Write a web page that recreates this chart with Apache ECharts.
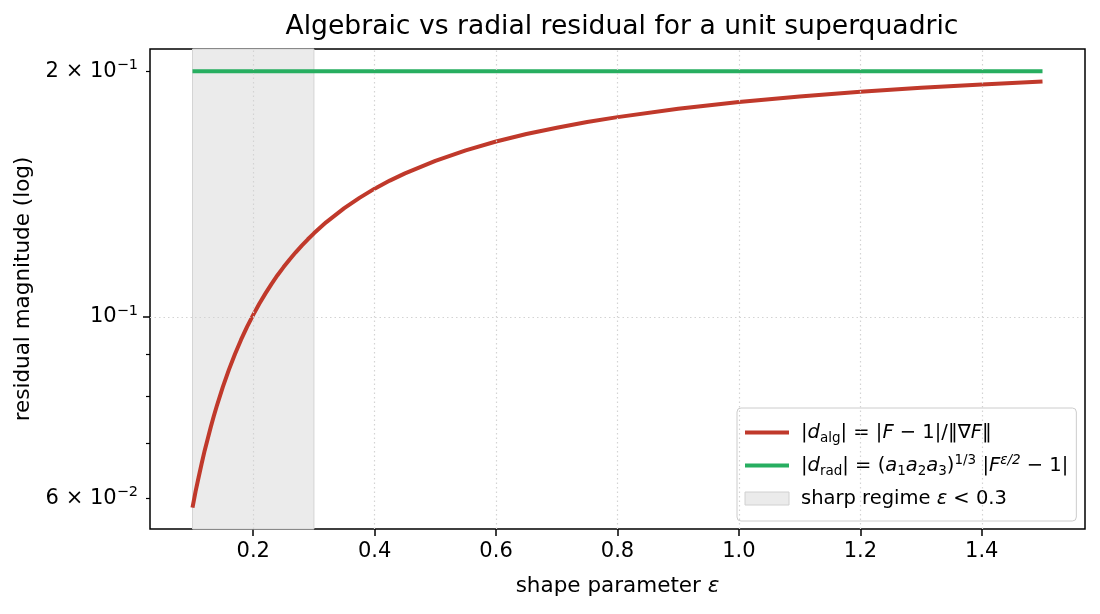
<!DOCTYPE html>
<html><head><meta charset="utf-8">
<script src="https://cdn.jsdelivr.net/npm/echarts@6/dist/echarts.min.js"></script>
<style>html,body{margin:0;padding:0;background:#fff}#c{width:1100px;height:614px}</style>
</head><body><div id="c"></div>
<script>
// ---- data ----
const epsValues = [0.100,0.105,0.110,0.115,0.120,0.125,0.130,0.135,0.140,0.150,0.160,0.170,0.180,0.190,0.200,0.210,0.220,0.230,0.240,0.250,0.260,0.270,0.280,0.290,0.300,0.320,0.350,0.375,0.400,0.425,0.450,0.500,0.550,0.600,0.650,0.700,0.750,0.800,0.900,1.000,1.100,1.200,1.300,1.400,1.500];
const algValues = [0.0584,0.0611,0.0636,0.0661,0.0686,0.0709,0.0733,0.0756,0.0778,0.0821,0.0862,0.0901,0.0938,0.0973,0.1006,0.1038,0.1068,0.1097,0.1125,0.1151,0.1176,0.1200,0.1223,0.1245,0.1266,0.1306,0.1359,0.1399,0.1436,0.1469,0.1499,0.1553,0.1600,0.1640,0.1675,0.1705,0.1733,0.1757,0.1799,0.1833,0.1862,0.1887,0.1908,0.1926,0.1942];
const radValues = [0.2,0.2,0.2,0.2,0.2,0.2,0.2,0.2,0.2,0.2,0.2,0.2,0.2,0.2,0.2,0.2,0.2,0.2,0.2,0.2,0.2,0.2,0.2,0.2,0.2,0.2,0.2,0.2,0.2,0.2,0.2,0.2,0.2,0.2,0.2,0.2,0.2,0.2,0.2,0.2,0.2,0.2,0.2,0.2,0.2];
const sharpRange = [0.1, 0.3];
const xTicks = [0.2,0.4,0.6,0.8,1.0,1.2,1.4];
const xTickLabels = ['0.2','0.4','0.6','0.8','1.0','1.2','1.4'];
const yLabelValues = [0.06, 0.1, 0.2];
const yLabelTexts = ['6 × 10{sup|−2}', '10{sup|−1}', '2 × 10{sup|−1}'];
const yMajorTicks = [0.1];
const yMinorTicks = [0.06, 0.07, 0.08, 0.09, 0.2];
const yGridValues = [0.1];

const NAME_ALG = '|d_alg| = |F − 1|/‖∇F‖';
const NAME_RAD = '|d_rad| = (a1a2a3)^(1/3) |F^(ε/2) − 1|';
const NAME_SHARP = 'sharp regime ε < 0.3';
const legendRich = {};
legendRich[NAME_ALG] = '{g|}|{it|d}{sub|alg}| = |{it|F} − 1|/‖∇{it|F}‖';
legendRich[NAME_RAD] = '{g|}|{it|d}{sub|rad}| = ({it|a}{sub|1}{it|a}{sub|2}{it|a}{sub|3}){sup|1/3} |{it|F}{supi|ε/2} − 1|';
legendRich[NAME_SHARP] = '{g|}sharp regime {it|ε} < 0.3';

const FF = 'DejaVu Sans';
const RED = '#c0392b', GREEN = '#27ae60';
const LF = 19.5;

const chart = echarts.init(document.getElementById('c'), null, {renderer: 'canvas'});
const gridStyle = {color: '#d3d3d3', width: 1.2, type: [1.5, 3]};
const hiddenSym = {color: 'rgba(0,0,0,0)', borderColor: 'rgba(0,0,0,0)', borderWidth: 0, opacity: 0};

chart.setOption({
  animation: false,
  backgroundColor: '#ffffff',
  textStyle: {fontFamily: FF},
  title: {
    text: 'Algebraic vs radial residual for a unit superquadric',
    left: 617, textAlign: 'center', top: 9,
    textStyle: {fontFamily: FF, fontSize: 26.6, fontWeight: 'normal', color: '#000'}
  },
  grid: {left: 150, right: 15, top: 49, bottom: 85, show: true, borderColor: '#000', borderWidth: 1.5, backgroundColor: 'transparent'},
  xAxis: {
    type: 'value', min: 0.03, max: 1.57,
    axisLine: {show: false},
    axisTick: {show: true, customValues: xTicks, length: 7, lineStyle: {color: '#000', width: 1.5}},
    axisLabel: {customValues: xTicks, margin: 12, color: '#000', fontFamily: FF, fontSize: 21,
      formatter: v => { const i = xTicks.findIndex(t => Math.abs(t - v) < 1e-9); return i >= 0 ? xTickLabels[i] : ''; }},
    splitLine: {show: false},
    name: 'shape parameter {it|ε}', nameLocation: 'middle', nameGap: 46,
    nameTextStyle: {fontFamily: FF, fontSize: 21.5, color: '#000',
      rich: {it: {fontStyle: 'italic', fontFamily: FF, fontSize: 21.5, color: '#000'}}}
  },
  yAxis: [{
    type: 'log', logBase: 10, min: 0.055, max: 0.2129,
    axisLine: {show: false},
    axisTick: {show: true, customValues: yMajorTicks, length: 7, lineStyle: {color: '#000', width: 1.5}},
    minorTick: {show: false},
    axisLabel: {customValues: yLabelValues, margin: 12, color: '#000', fontFamily: FF, fontSize: 21, lineHeight: 27,
      formatter: v => { const i = yLabelValues.findIndex(t => Math.abs(t - v) / t < 1e-6); return i >= 0 ? yLabelTexts[i] : ''; },
      rich: {sup: {fontSize: 14.5, lineHeight: 14.5, verticalAlign: 'top', fontFamily: FF, color: '#000'}}},
    splitLine: {show: false},
    name: 'residual magnitude (log)', nameLocation: 'middle', nameGap: 110,
    nameTextStyle: {fontFamily: FF, fontSize: 21.5, color: '#000'}
  }, {
    type: 'log', logBase: 10, min: 0.055, max: 0.2129, position: 'left', offset: 0,
    axisLine: {show: false},
    axisTick: {show: true, customValues: yMinorTicks, length: 4, lineStyle: {color: '#000', width: 1.2}},
    minorTick: {show: false},
    axisLabel: {show: false},
    splitLine: {show: false}
  }],
  legend: {
    orient: 'vertical', left: 737, top: 408,
    padding: [12, 8, 10, 6], itemGap: 8, itemWidth: 44, itemHeight: 13,
    backgroundColor: 'rgba(255,255,255,0.8)', borderColor: '#cccccc', borderWidth: 1, borderRadius: 4,
    data: [
      {name: NAME_ALG, itemStyle: hiddenSym, lineStyle: {color: RED, width: 4}},
      {name: NAME_RAD, itemStyle: hiddenSym, lineStyle: {color: GREEN, width: 4}},
      {name: NAME_SHARP, icon: 'rect', itemStyle: {color: '#ebebeb', borderColor: '#d0d0d0', borderWidth: 1}}],
    formatter: n => legendRich[n],
    textStyle: {fontFamily: FF, fontSize: LF, color: '#000', lineHeight: 25,
      rich: {
        g: {width: 7},
        it: {fontStyle: 'italic', fontFamily: FF, fontSize: LF, lineHeight: 25, color: '#000'},
        sub: {fontFamily: FF, fontSize: 13.5, lineHeight: 13.5, verticalAlign: 'bottom', color: '#000'},
        sup: {fontFamily: FF, fontSize: 13.5, lineHeight: 13.5, verticalAlign: 'top', color: '#000'},
        supi: {fontFamily: FF, fontStyle: 'italic', fontSize: 13.5, lineHeight: 13.5, verticalAlign: 'top', color: '#000'}
      }}
  },
  series: [{
    name: NAME_SHARP, type: 'line', data: [], z: -1,
    itemStyle: {color: '#ebebeb'},
    markArea: {silent: true, itemStyle: {color: '#ebebeb', borderColor: '#d4d4d4', borderWidth: 1},
      data: [[{xAxis: sharpRange[0]}, {xAxis: sharpRange[1]}]]}
  }, {
    type: 'line', data: [], z: 1, silent: true,
    markLine: {silent: true, symbol: ['none', 'none'], label: {show: false}, lineStyle: gridStyle,
      data: xTicks.map(v => ({xAxis: v})).concat(yGridValues.map(v => ({yAxis: v})))}
  }, {
    name: NAME_ALG, type: 'line', z: 4, symbol: 'none', smooth: false,
    data: epsValues.map((e, i) => [e, algValues[i]]),
    itemStyle: {color: RED}, lineStyle: {color: RED, width: 4, join: 'round'}
  }, {
    name: NAME_RAD, type: 'line', z: 4, symbol: 'none',
    data: epsValues.map((e, i) => [e, radValues[i]]),
    itemStyle: {color: GREEN}, lineStyle: {color: GREEN, width: 4}
  }]
});
</script>
</body></html>
